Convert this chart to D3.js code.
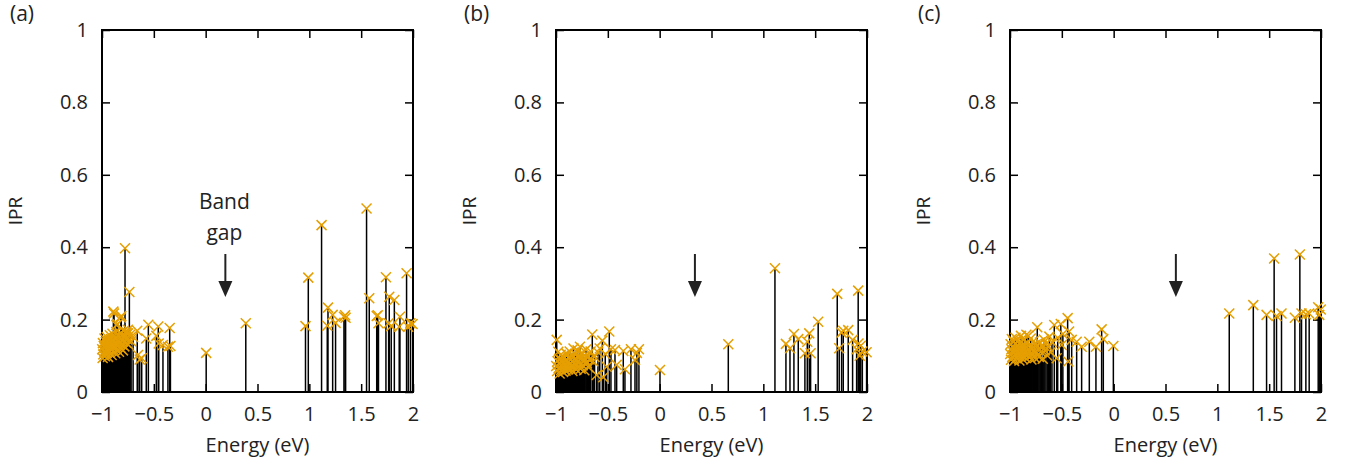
<!DOCTYPE html>
<html><head><meta charset="utf-8">
<script src="https://cdn.jsdelivr.net/npm/d3@7"></script>
<style>
html,body{margin:0;padding:0;background:#fff;}
svg text{font-family:"Open Sans","Noto Sans",sans-serif;fill:#222;}
</style></head><body>
<svg id="chart" width="1352" height="465"></svg>
<script>
// [energy (eV), IPR] for every state, panel (a)
const statesA = [
[-0.998,0.118],[-0.994,0.094],[-0.991,0.135],[-0.987,0.104],[-0.983,0.127],[-0.979,0.112],[-0.976,0.148],[-0.972,0.099],[-0.968,0.121],[-0.963,0.138],
[-0.959,0.108],[-0.955,0.152],[-0.951,0.116],[-0.947,0.131],[-0.942,0.097],[-0.938,0.142],[-0.934,0.124],[-0.929,0.109],[-0.925,0.157],[-0.921,0.133],
[-0.916,0.119],[-0.912,0.146],[-0.907,0.102],[-0.903,0.128],[-0.899,0.161],[-0.894,0.113],[-0.890,0.222],[-0.886,0.139],[-0.884,0.217],[-0.881,0.125],
[-0.877,0.150],[-0.872,0.107],[-0.868,0.134],[-0.863,0.166],[-0.862,0.185],[-0.859,0.118],[-0.854,0.143],[-0.849,0.187],[-0.845,0.129],[-0.840,0.155],
[-0.836,0.111],[-0.831,0.137],[-0.826,0.162],[-0.822,0.122],[-0.817,0.206],[-0.814,0.210],[-0.812,0.147],[-0.808,0.131],[-0.803,0.158],[-0.798,0.115],
[-0.793,0.141],[-0.789,0.169],[-0.784,0.126],[-0.778,0.397],[-0.773,0.153],[-0.768,0.136],[-0.762,0.164],[-0.757,0.145],[-0.751,0.172],[-0.749,0.162],
[-0.745,0.131],[-0.736,0.276],[-0.728,0.158],[-0.719,0.140],[-0.700,0.152],[-0.660,0.169],[-0.653,0.102],[-0.636,0.090],[-0.617,0.093],[-0.573,0.148],
[-0.553,0.186],[-0.476,0.155],[-0.457,0.181],[-0.453,0.134],[-0.412,0.130],[-0.364,0.125],[-0.347,0.177],[-0.340,0.127],
[0.005,0.108],[0.387,0.190],
[0.963,0.182],[0.990,0.316],[1.118,0.461],[1.173,0.183],[1.180,0.233],[1.225,0.213],[1.253,0.191],[1.334,0.208],[1.345,0.212],[1.350,0.205],
[1.552,0.507],[1.578,0.259],[1.650,0.210],[1.660,0.212],[1.667,0.190],[1.739,0.317],[1.765,0.190],[1.771,0.263],[1.790,0.182],[1.820,0.254],
[1.867,0.180],[1.874,0.208],[1.938,0.328],[1.954,0.180],[1.975,0.190],[1.996,0.188]
];
// panel (b)
const statesB = [
[-0.998,0.072],[-0.993,0.144],[-0.989,0.058],[-0.985,0.085],[-0.978,0.111],[-0.974,0.066],[-0.969,0.092],[-0.965,0.051],[-0.960,0.078],[-0.955,0.103],
[-0.951,0.061],[-0.946,0.087],[-0.941,0.071],[-0.937,0.097],[-0.932,0.055],[-0.927,0.082],[-0.922,0.068],[-0.918,0.094],[-0.913,0.075],[-0.908,0.059],
[-0.903,0.088],[-0.898,0.106],[-0.893,0.070],[-0.888,0.081],[-0.883,0.063],[-0.878,0.095],[-0.873,0.077],[-0.868,0.112],[-0.863,0.066],[-0.858,0.089],
[-0.852,0.073],[-0.847,0.100],[-0.842,0.058],[-0.837,0.084],[-0.831,0.120],[-0.826,0.069],[-0.821,0.091],[-0.815,0.076],[-0.810,0.104],[-0.804,0.062],
[-0.798,0.087],[-0.792,0.115],[-0.786,0.071],[-0.780,0.096],[-0.774,0.080],[-0.769,0.125],[-0.762,0.064],[-0.756,0.093],[-0.749,0.108],[-0.742,0.074],
[-0.735,0.098],[-0.727,0.060],[-0.719,0.088],[-0.711,0.117],[-0.703,0.079],[-0.694,0.101],[-0.685,0.068],[-0.676,0.090],[-0.666,0.112],[-0.650,0.159],
[-0.641,0.085],[-0.628,0.097],[-0.608,0.047],[-0.595,0.110],[-0.578,0.120],[-0.553,0.142],[-0.544,0.041],[-0.525,0.105],[-0.511,0.070],[-0.486,0.167],
[-0.470,0.118],[-0.431,0.116],[-0.415,0.075],[-0.351,0.113],[-0.335,0.063],[-0.277,0.118],[-0.238,0.088],[-0.220,0.108],[-0.200,0.118],
[0.003,0.061],[0.662,0.132],
[1.112,0.342],[1.218,0.133],[1.257,0.121],[1.295,0.160],[1.337,0.146],[1.401,0.107],[1.424,0.139],[1.443,0.162],[1.456,0.107],[1.529,0.194],
[1.713,0.271],[1.732,0.121],[1.755,0.164],[1.771,0.169],[1.819,0.171],[1.861,0.144],[1.900,0.118],[1.915,0.280],[1.918,0.134],[1.930,0.100],
[1.940,0.128],[1.955,0.112],[1.996,0.110]
];
// panel (c)
const statesC = [
[-0.998,0.105],[-0.994,0.132],[-0.990,0.089],[-0.986,0.118],[-0.982,0.146],[-0.978,0.097],[-0.974,0.125],[-0.969,0.110],[-0.965,0.139],[-0.961,0.086],
[-0.956,0.121],[-0.952,0.103],[-0.947,0.150],[-0.943,0.115],[-0.938,0.093],[-0.933,0.128],[-0.929,0.108],[-0.924,0.141],[-0.919,0.099],[-0.914,0.122],
[-0.909,0.087],[-0.904,0.134],[-0.899,0.112],[-0.894,0.155],[-0.889,0.101],[-0.884,0.126],[-0.879,0.091],[-0.874,0.117],[-0.869,0.144],[-0.863,0.106],
[-0.858,0.130],[-0.853,0.095],[-0.847,0.120],[-0.842,0.158],[-0.836,0.109],[-0.830,0.136],[-0.824,0.155],[-0.818,0.098],[-0.812,0.123],[-0.806,0.113],
[-0.800,0.148],[-0.793,0.090],[-0.787,0.127],[-0.780,0.104],[-0.773,0.140],[-0.766,0.116],[-0.759,0.094],[-0.752,0.131],[-0.745,0.107],[-0.737,0.179],
[-0.729,0.119],[-0.721,0.097],[-0.712,0.137],[-0.703,0.111],[-0.694,0.128],[-0.684,0.092],[-0.674,0.145],[-0.664,0.115],[-0.653,0.133],[-0.641,0.101],
[-0.630,0.124],[-0.620,0.153],[-0.607,0.110],[-0.595,0.138],[-0.573,0.185],[-0.550,0.093],[-0.540,0.150],[-0.510,0.188],[-0.501,0.130],[-0.490,0.160],
[-0.444,0.204],[-0.438,0.084],[-0.430,0.167],[-0.405,0.144],[-0.357,0.139],[-0.309,0.125],[-0.235,0.139],[-0.171,0.125],[-0.116,0.173],[-0.100,0.146],
[-0.003,0.127],
[1.115,0.217],[1.347,0.240],[1.475,0.213],[1.548,0.369],[1.571,0.210],[1.619,0.217],[1.748,0.205],[1.796,0.380],[1.812,0.217],[1.854,0.215],
[1.886,0.217],[1.973,0.234],[1.983,0.213],[1.998,0.228]
];
const panelLabels = ["(a)", "(b)", "(c)"];
const gapArrowEnergy = [0.19, 0.34, 0.60];
const gapText = ["Band", "gap"];
const xTickValues = [-1, -0.5, 0, 0.5, 1, 1.5, 2];
const yTickValues = [0, 0.2, 0.4, 0.6, 0.8, 1];
const xTitle = "Energy (eV)";
const yTitle = "IPR";

const panels = [statesA, statesB, statesC];
const panelLeft = [102, 556, 1010];
const W = 311, TOP = 30, BOTTOM = 392;
const FS = 20;
const svg = d3.select("#chart");
const fmt = d3.format("~g");

panels.forEach((states, i) => {
  const g = svg.append("g").attr("transform", `translate(${panelLeft[i]},0)`);
  const x = d3.scaleLinear().domain([-1, 2]).range([0, W]);
  const y = d3.scaleLinear().domain([0, 1]).range([BOTTOM, TOP]);

  const styleAxis = sel => {
    sel.select(".domain").remove();
    sel.selectAll(".tick line").attr("stroke", "#000").attr("stroke-width", 1.5);
    sel.selectAll("text").style("font-size", FS + "px").attr("fill", "#222");
  };
  g.append("g").attr("transform", `translate(0,${BOTTOM})`)
    .call(d3.axisBottom(x).tickValues(xTickValues).tickFormat(fmt).tickSizeInner(-8).tickSizeOuter(0).tickPadding(15))
    .call(styleAxis);
  g.append("g").attr("transform", `translate(0,${TOP})`)
    .call(d3.axisTop(x).tickValues(xTickValues).tickFormat("").tickSizeInner(-8).tickSizeOuter(0))
    .call(styleAxis);
  g.append("g")
    .call(d3.axisLeft(y).tickValues(yTickValues).tickFormat(fmt).tickSizeInner(-8).tickSizeOuter(0).tickPadding(14))
    .call(styleAxis);
  g.append("g").attr("transform", `translate(${W},0)`)
    .call(d3.axisRight(y).tickValues(yTickValues).tickFormat("").tickSizeInner(-8).tickSizeOuter(0))
    .call(styleAxis);

  g.append("rect").attr("x", 0).attr("y", TOP).attr("width", W).attr("height", BOTTOM - TOP)
    .attr("fill", "none").attr("stroke", "#000").attr("stroke-width", 2);

  g.append("g").selectAll("line").data(states).join("line")
    .attr("x1", d => x(d[0])).attr("x2", d => x(d[0]))
    .attr("y1", y(0)).attr("y2", d => y(d[1]))
    .attr("stroke", "#000").attr("stroke-width", 1.5);

  g.append("g").selectAll("path").data(states).join("path")
    .attr("transform", d => `translate(${x(d[0])},${y(d[1])})`)
    .attr("d", "M-5,-5L5,5M-5,5L5,-5")
    .attr("stroke", "#e69f00").attr("stroke-width", 1.5).attr("fill", "none");

  const ax = x(gapArrowEnergy[i]);
  g.append("line").attr("x1", ax).attr("x2", ax).attr("y1", 254).attr("y2", 284)
    .attr("stroke", "#222").attr("stroke-width", 2);
  g.append("path").attr("d", `M${ax - 7},${281}L${ax + 7},${281}L${ax},${297}Z`).attr("fill", "#222");
  if (i === 0) {
    gapText.forEach((t, k) => {
      g.append("text").attr("x", ax - 1).attr("y", 209 + k * 31).attr("text-anchor", "middle")
        .style("font-size", "21px").text(t);
    });
  }

  g.append("text").attr("x", W / 2).attr("y", 452).attr("text-anchor", "middle")
    .style("font-size", "20px").text(xTitle);
  g.append("text").attr("transform", `translate(${-80},${211}) rotate(-90)`).attr("text-anchor", "middle")
    .style("font-size", "19px").text(yTitle);
  g.append("text").attr("x", -92).attr("y", 21).style("font-size", "21px").text(panelLabels[i]);
});
</script>
</body></html>
